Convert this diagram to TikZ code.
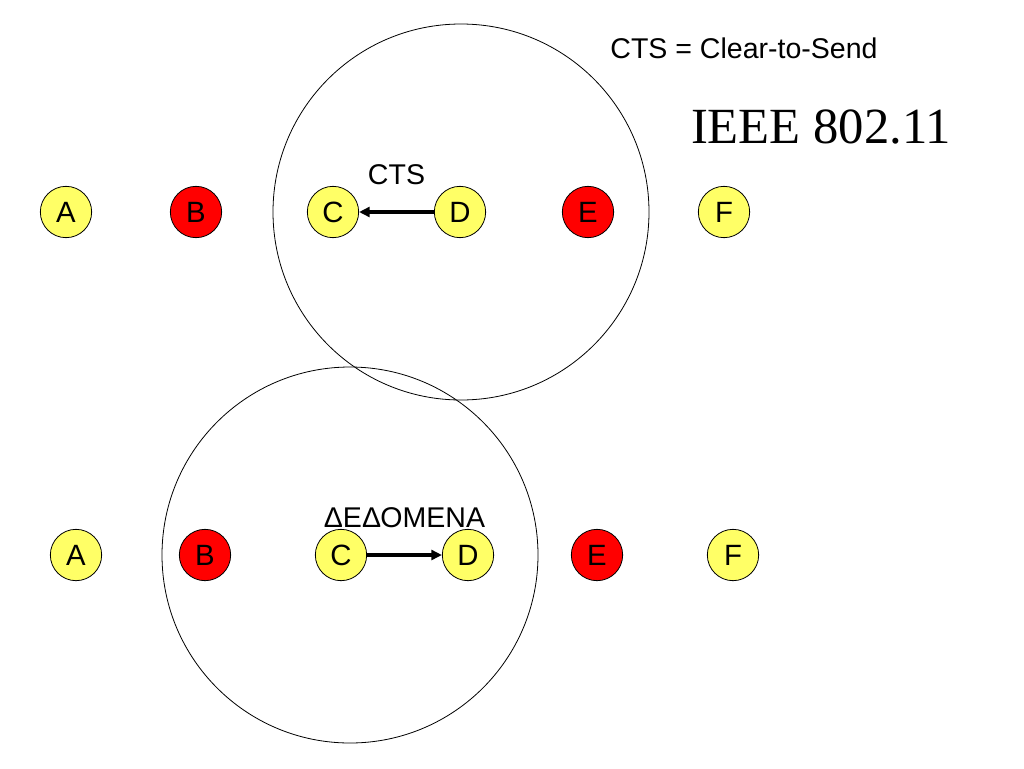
\documentclass[tikz,border=0pt]{standalone}
\usepackage{fontspec}
\setmainfont{Liberation Sans}
\newfontfamily\timesfont{Liberation Serif}
\usetikzlibrary{arrows.meta}
\definecolor{stayellow}{RGB}{255,255,102}
\definecolor{stared}{RGB}{255,0,0}
\tikzset{
    sta/.style={circle,draw,line width=0.6pt,minimum size=38.5pt,inner sep=0pt,font=\fontsize{22}{22}\selectfont},
    cover/.style={draw,line width=0.6pt},
    msg/.style={line width=2.3pt,-{Triangle[length=8pt,width=7.5pt]}},
    lbl/.style={font=\fontsize{21.4}{21.4}\selectfont}
}
\begin{document}
\begin{tikzpicture}[x=0.75pt,y=-0.75pt]
        \useasboundingbox (0,0) rectangle (1024,768);
        % coverage
        \draw[cover] (461,212) circle[radius=141pt];
        \draw[cover] (350,555) circle[radius=141pt];
        % stations
        \foreach \n/\x/\c in {A/66/stayellow, B/196/stared, C/333/stayellow, D/460/stayellow, E/588/stared, F/724/stayellow}{
            \node[sta,fill=\c] (t\n) at (\x,212) {\n};
        }
        \foreach \n/\x/\c in {A/76/stayellow, B/205/stared, C/341/stayellow, D/468/stayellow, E/597/stared, F/733/stayellow}{
            \node[sta,fill=\c] (b\n) at (\x,555) {\n};
        }
        % frames
        \draw[msg] (tD) -- (tC) node[midway,yshift=28pt,lbl] (cts) {CTS};
        \draw[msg] (bC) -- (bD) node[midway,yshift=28pt,lbl] (data) {ΔΕΔΟΜΕΝΑ};
        \node[lbl] (note) at (744,48) {CTS = Clear-to-Send};
        \node[font=\timesfont\fontsize{38}{38}\selectfont] (title) at (821,127) {IEEE 802.11};
    \end{tikzpicture}
\end{document}
